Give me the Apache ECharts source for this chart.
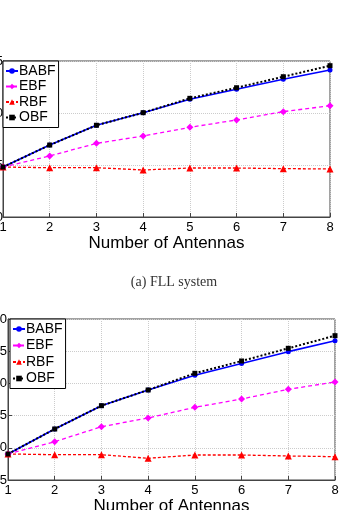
<!DOCTYPE html>
<html>
<head>
<meta charset="utf-8">
<script src="https://cdn.jsdelivr.net/npm/echarts@6/dist/echarts.min.js"></script>
<style>
  html, body { margin: 0; padding: 0; background: #fff; }
  #main { width: 348px; height: 510px; }
</style>
</head>
<body>
<div id="main"></div>
<script>
// antennas on the x axis
var antennas = ['1', '2', '3', '4', '5', '6', '7', '8'];

// (a) FLL system
var fllBABF = [4.8, 6.92, 8.82, 10.03, 11.32, 12.28, 13.24, 14.13];
var fllEBF  = [4.8, 5.87, 7.08, 7.79, 8.62, 9.33, 10.13, 10.70];
var fllRBF  = [4.8, 4.74, 4.74, 4.52, 4.71, 4.71, 4.65, 4.62];
var fllOBF  = [4.8, 6.92, 8.82, 10.03, 11.41, 12.43, 13.49, 14.55];

// (b) second system
var sysBABF = [9.04, 12.92, 16.54, 18.98, 21.26, 23.1, 24.93, 26.63];
var sysEBF  = [9.04, 10.95, 13.28, 14.63, 16.29, 17.58, 19.08, 20.22];
var sysRBF  = [9.04, 8.93, 8.93, 8.37, 8.88, 8.88, 8.73, 8.62];
var sysOBF  = [9.04, 12.92, 16.54, 18.98, 21.57, 23.48, 25.45, 27.41];

var names = ['BABF', 'EBF', 'RBF', 'OBF'];

var myChart = echarts.init(document.getElementById('main'));

function mkSeries(idx, name, data) {
    var st = {
        BABF: {color: '#0000ff', type: 'solid', width: 1.6, symbol: 'circle', size: 5},
        EBF:  {color: '#ff00ff', type: [4, 3], width: 1.3, symbol: 'diamond', size: 7},
        RBF:  {color: '#ff0000', type: [3, 2], width: 1.3, symbol: 'triangle', size: 7},
        OBF:  {color: '#000000', type: [2, 2], width: 2, symbol: 'rect', size: 5}
    }[name];
    return {
        name: name,
        type: 'line',
        xAxisIndex: idx,
        yAxisIndex: idx,
        data: data,
        symbol: st.symbol,
        symbolSize: st.size,
        showSymbol: true,
        animation: false,
        z: name == 'OBF' ? 3 : 2,
        itemStyle: {color: st.color},
        lineStyle: {color: st.color, type: st.type, width: st.width}
    };
}

function xAx(idx, gap) {
    return {
        type: 'category',
        gridIndex: idx,
        data: antennas,
        boundaryGap: false,
        name: 'Number of Antennas',
        nameLocation: 'middle',
        nameGap: gap,
        nameTextStyle: {fontFamily: 'Liberation Sans', fontSize: 17, color: '#000'},
        axisLine: {lineStyle: {color: '#444'}},
        axisTick: {inside: true, length: 4, lineStyle: {color: '#444'}},
        axisLabel: {fontFamily: 'Liberation Sans', fontSize: 13, color: '#000', margin: 4},
        splitLine: {show: true, lineStyle: {color: '#ccc', type: 'dotted'}}
    };
}

function yAx(idx, min, max, m) {
    return {
        type: 'value',
        gridIndex: idx,
        min: min,
        max: max,
        interval: 5,
        axisLine: {show: true, lineStyle: {color: '#444'}},
        axisTick: {show: true, inside: true, length: 4, lineStyle: {color: '#444'}},
        axisLabel: {fontFamily: 'Liberation Sans', fontSize: 13, color: '#000', margin: m},
        splitLine: {show: true, lineStyle: {color: '#ccc', type: 'dotted'}}
    };
}

function legendAt(idx, left, top, gap) {
    return {
        data: names,
        orient: 'vertical',
        left: left,
        top: top,
        itemWidth: 12,
        itemHeight: 7,
        itemGap: gap,
        padding: [3, 3, 3, 2],
        backgroundColor: '#fff',
        borderColor: '#000',
        borderWidth: 1,
        borderRadius: 0,
        selectedMode: false,
        textStyle: {fontFamily: 'Liberation Sans', fontSize: 14, color: '#000', padding: [0, 0, 0, -4]}
    };
}

var option = {
    backgroundColor: '#fff',
    animation: false,
    title: {
        text: '(a) FLL system',
        left: 'center',
        top: 270,
        textStyle: {fontFamily: 'Liberation Serif', fontSize: 14, fontWeight: 'normal', color: '#333'}
    },
    legend: [legendAt(0, 3, 61, 1.5), legendAt(1, 10, 319, 2.5)],
    grid: [
        {left: 3, right: 18, top: 61, height: 156, show: true, borderColor: '#444', borderWidth: 1,
         containLabel: false, outerBoundsMode: 'none'},
        {left: 8, right: 13, top: 319, height: 161, show: true, borderColor: '#444', borderWidth: 1,
         containLabel: false, outerBoundsMode: 'none'}
    ],
    xAxis: [xAx(0, 17), xAx(1, 18)],
    yAxis: [yAx(0, 0, 15, 0), yAx(1, 5, 30, 1)],
    series: [
        mkSeries(0, 'BABF', fllBABF),
        mkSeries(0, 'EBF', fllEBF),
        mkSeries(0, 'RBF', fllRBF),
        mkSeries(0, 'OBF', fllOBF),
        mkSeries(1, 'BABF', sysBABF),
        mkSeries(1, 'EBF', sysEBF),
        mkSeries(1, 'RBF', sysRBF),
        mkSeries(1, 'OBF', sysOBF)
    ]
};

myChart.setOption(option);
</script>
</body>
</html>
